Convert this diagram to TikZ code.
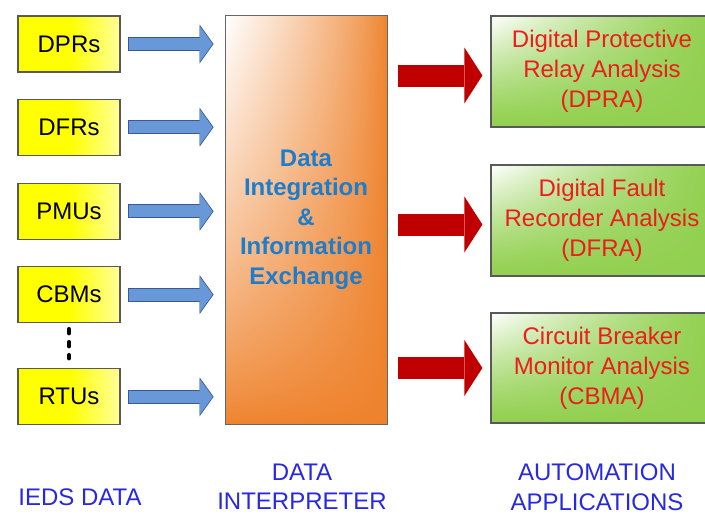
\documentclass[tikz,border=0pt]{standalone}
\usepackage{fontspec}
\setmainfont{Liberation Sans}
\usetikzlibrary{arrows.meta,positioning,calc}

\definecolor{iedyellow}{RGB}{255,255,0}
\definecolor{appred}{RGB}{238,28,28}
\definecolor{feedblue}{RGB}{104,152,216}
\definecolor{feededge}{RGB}{58,88,150}
\definecolor{pushred}{RGB}{192,0,0}
\definecolor{labelblue}{RGB}{40,40,225}
\definecolor{exblue}{RGB}{28,125,205}

% white in the top left corner, fading to orange / green
\pgfdeclarefunctionalshading{orangeglow}{\pgfpoint{-25bp}{-25bp}}{\pgfpoint{25bp}{25bp}}{}{
  25 add 50 div exch 25 exch sub 50 div mul dup 0 lt {pop 0} if 0.8 exp
  dup 0.067 mul 0.933 add exch dup 0.49 mul 0.51 add exch 0.827 mul 0.173 add}
\pgfdeclarefunctionalshading{greenglow}{\pgfpoint{-25bp}{-25bp}}{\pgfpoint{25bp}{25bp}}{}{
  25 add 50 div exch 25 exch sub 50 div mul dup 0 lt {pop 0} if 1.3 exp
  dup 0.427 mul 0.573 add exch dup 0.184 mul 0.816 add exch 0.686 mul 0.314 add}

\tikzset{
  ied/.style={draw=black!65, line width=1.2pt, left color=iedyellow, right color=iedyellow!40!white,
    middle color=iedyellow, minimum width=102pt, minimum height=56pt, font=\fontsize{24}{28}\selectfont},
  exchange/.style={draw=black!60, line width=0.8pt, shade, shading=orangeglow, minimum width=162pt,
    minimum height=409pt, text=exblue, align=center, font=\bfseries\fontsize{24}{29.5}\selectfont},
  app/.style={draw=black!65, line width=1.2pt, shade, shading=greenglow, minimum width=222pt,
    minimum height=111pt, text=appred, align=center, font=\fontsize{24}{30}\selectfont},
  caption/.style={text=labelblue, align=center, inner sep=0pt, font=\fontsize{24}{29.5}\selectfont},
  feed/.style={line width=12pt, feedblue, -{Triangle[length=13pt,width=36pt,line width=0pt]},
    preaction={draw=feededge, line width=14pt, shorten <=-1pt, shorten >=-1pt,
      -{Triangle[length=14pt,width=39pt,line width=0pt]}}},
  push/.style={line width=22pt, pushred, -{Triangle[length=18pt,width=56pt,line width=0pt]}}
}

\begin{document}
\begin{tikzpicture}[x=1pt,y=-1pt]
  \useasboundingbox (0,0) rectangle (705,514);

  % IED sources
  \node[ied] (dprs) at (69,44) {DPRs};
  \node[ied] (dfrs) [below=26pt of dprs] {DFRs};
  \node[ied] (pmus) [below=27pt of dfrs] {PMUs};
  \node[ied] (cbms) [below=26pt of pmus] {CBMs};
  \node[ied] (rtus) [below=45pt of cbms] {RTUs};
  \draw[line width=4.5pt, line cap=round, dash pattern=on 4pt off 9pt,
        shorten <=6pt, shorten >=10pt] (cbms) -- (rtus);

  % interpreter
  \node[exchange] (exchange) at (306,219.5)
    {Data\\Integration\\\&\\Information\\Exchange};

  % applications
  \node[app] (dpra) at (602,71.5) {Digital Protective\\Relay Analysis\\(DPRA)};
  \node[app] (dfra) at (602,220.5) {Digital Fault\\Recorder Analysis\\(DFRA)};
  \node[app, minimum height=110pt] (cbma) at (602,368) {Circuit Breaker\\Monitor Analysis\\(CBMA)};

  \foreach \src in {dprs,dfrs,pmus,cbms,rtus}
    \draw[feed] ($(\src.east)+(8,0)$) -- ($(exchange.west |- \src.east)+(-12,0)$);
  \foreach \app/\dy in {dpra/4,dfra/4,cbma/0}
    \draw[push] ($(exchange.east |- \app.west)+(11,\dy)$) -- ($(\app.west)+(-8,\dy)$);

  % column captions
  \node[caption] (ieds label) at (80,497) {IEDS DATA};
  \node[caption] (interp label) at (302,486.5) {DATA\\INTERPRETER};
  \node[caption] (auto label) at (597,487) {AUTOMATION\\APPLICATIONS};
\end{tikzpicture}
\end{document}
